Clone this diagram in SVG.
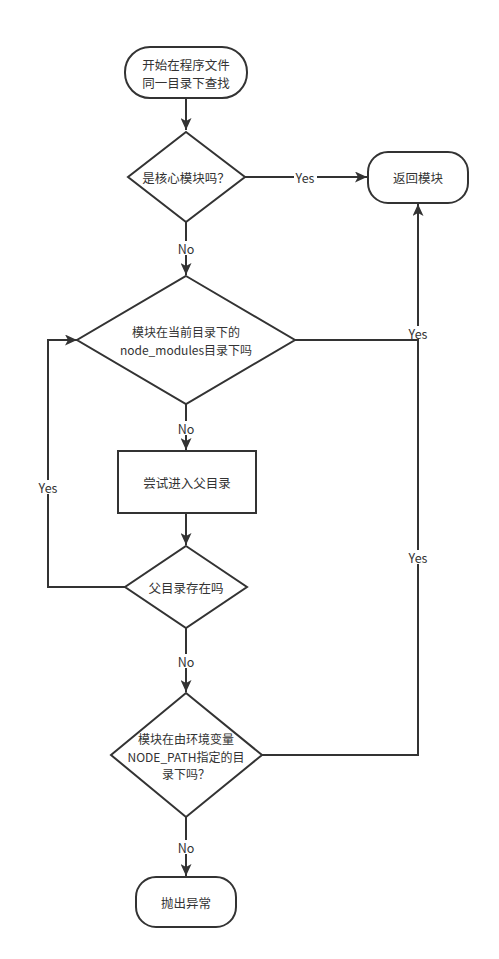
<svg xmlns="http://www.w3.org/2000/svg" width="499" height="959" viewBox="0 0 499 959">
<style>
.s{fill:#fff;stroke:#333;stroke-width:2}
.t{font-family:"Noto Sans CJK SC","Noto Sans",sans-serif;font-size:12.5px;fill:#333;text-anchor:middle;dominant-baseline:central}
.m{font-size:12px}
.c{fill:none;stroke:#333;stroke-width:2}
.lb{fill:#fff}
</style>
<defs>
<marker id="a" markerUnits="userSpaceOnUse" markerWidth="13" markerHeight="11" refX="12" refY="5.5" orient="auto">
<path d="M0,0 L12,5.5 L0,11 L3,5.5 z" fill="#333"/>
</marker>
</defs>
<rect width="499" height="959" fill="#fff"/>
<g id="connectors">
<path class="c" d="M186,98 V130" marker-end="url(#a)"/>
<path class="c" d="M245,177 H367" marker-end="url(#a)"/>
<path class="c" d="M186,222 V275" marker-end="url(#a)"/>
<path class="c" d="M295,340 H418"/>
<path class="c" d="M186,404 V450" marker-end="url(#a)"/>
<path class="c" d="M186,513 V545" marker-end="url(#a)"/>
<path class="c" d="M125,587 H48 V340 H77" marker-end="url(#a)"/>
<path class="c" d="M186,628 V692" marker-end="url(#a)"/>
<path class="c" d="M262,755 H418 V204" marker-end="url(#a)"/>
<path class="c" d="M186,817 V876" marker-end="url(#a)"/>
<rect class="lb" x="294" y="170" width="23" height="14"/>
<text class="t" x="305" y="177">Yes</text>
<rect class="lb" x="177" y="241" width="18" height="14"/>
<text class="t" x="186" y="248">No</text>
<rect class="lb" x="408" y="326" width="20" height="13"/>
<text class="t" x="418" y="333">Yes</text>
<rect class="lb" x="177" y="421" width="18" height="14"/>
<text class="t" x="186" y="428">No</text>
<rect class="lb" x="37" y="480" width="22" height="14"/>
<text class="t" x="48" y="487">Yes</text>
<rect class="lb" x="177" y="654" width="18" height="14"/>
<text class="t" x="186" y="661">No</text>
<rect class="lb" x="407" y="550" width="22" height="14"/>
<text class="t" x="418" y="557">Yes</text>
<rect class="lb" x="177" y="840" width="18" height="14"/>
<text class="t" x="186" y="847">No</text>
</g>
<g id="start">
<rect class="s" x="125" y="47" width="122" height="51" rx="25" ry="25"/>
<text class="t"><tspan x="186" y="64">开始在程序文件</tspan><tspan x="186" y="82">同一目录下查找</tspan></text>
</g>
<g id="core">
<path class="s" d="M186,132 L245,177 L186,222 L128,177 Z"/>
<text class="t" x="186" y="177">是核心模块吗？</text>
</g>
<g id="return">
<rect class="s" x="368" y="152" width="100" height="51" rx="20" ry="20"/>
<text class="t" x="418" y="177">返回模块</text>
</g>
<g id="nodemodules">
<path class="s" d="M186,276 L295,340 L186,404 L77,340 Z"/>
<text class="t m"><tspan x="186" y="331">模块在当前目录下的</tspan><tspan x="186" y="349">node_modules目录下吗</tspan></text>
</g>
<g id="parent">
<rect class="s" x="118" y="451" width="138" height="62"/>
<text class="t" x="187" y="482">尝试进入父目录</text>
</g>
<g id="exists">
<path class="s" d="M186,546 L247,587 L186,628 L125,587 Z"/>
<text class="t" x="186" y="587">父目录存在吗</text>
</g>
<g id="nodepath">
<path class="s" d="M186,693 L262,755 L186,817 L111,755 Z"/>
<text class="t m"><tspan x="186" y="738">模块在由环境变量</tspan><tspan x="186" y="755.5">NODE_PATH指定的目</tspan><tspan x="186" y="773">录下吗？</tspan></text>
</g>
<g id="throw">
<rect class="s" x="136" y="877" width="100" height="50" rx="20" ry="20"/>
<text class="t" x="186" y="902">抛出异常</text>
</g>
</svg>
